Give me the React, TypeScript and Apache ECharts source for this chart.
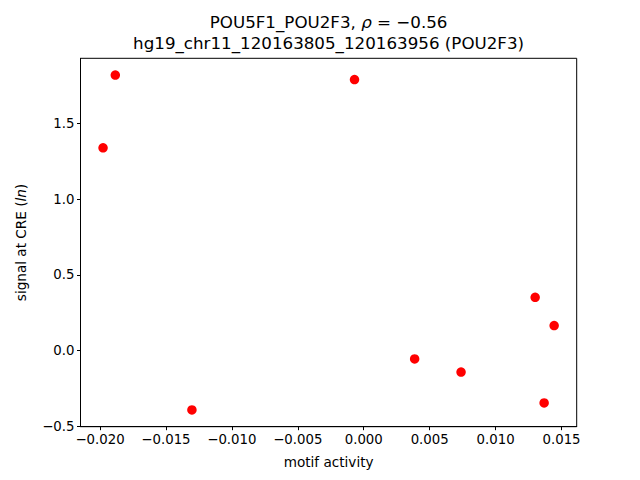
import React, { useEffect, useRef } from "react";
import * as echarts from "echarts";

const xValues = [-0.01884, -0.01977, -0.0007, -0.01303, 0.00386, 0.00738, 0.0130, 0.01444, 0.01368];
const yValues = [1.818, 1.338, 1.788, -0.392, -0.055, -0.142, 0.351, 0.165, -0.346];
const xRange = [-0.02148, 0.01615];
const yRange = [-0.5025, 1.9285];
const titleLine1 = "POU5F1_POU2F3, ";
const titleRho = "ρ";
const titleRhoValue = " = −0.56";
const titleLine2 = "hg19_chr11_120163805_120163956 (POU2F3)";
const xName = "motif activity";

const FONT = "DejaVu Sans";

function fmt(v: number, d: number) {
  const s = Math.abs(v).toFixed(d);
  return (v < -1e-12 ? "−" : "") + s;
}

export default function App() {
  const ref = useRef<HTMLDivElement>(null);
  useEffect(() => {
    if (!ref.current) return;
    const chart = echarts.init(ref.current, null, { renderer: "svg" });
    const data = xValues.map((x, i) => [x, yValues[i]]);
    chart.setOption({
      animation: false,
      backgroundColor: "#ffffff",
      textStyle: { fontFamily: FONT },
      grid: {
        left: 80.5,
        right: 63.3,
        top: 58.3,
        bottom: 53.3,
        show: true,
        borderColor: "#000",
        borderWidth: 1,
        backgroundColor: "transparent",
      },
      xAxis: {
        type: "value",
        min: xRange[0],
        max: xRange[1],
        splitNumber: 7,
        splitLine: { show: false },
        axisLine: { show: true, onZero: false, lineStyle: { color: "#000", width: 1 } },
        axisTick: { show: true, length: 3.5, lineStyle: { color: "#000" } },
        axisLabel: {
          color: "#000",
          fontSize: 13.3,
          fontFamily: FONT,
          margin: 6,
          showMinLabel: false,
          showMaxLabel: false,
          formatter: (v: number) => fmt(v, 3),
        },
      },
      yAxis: {
        type: "value",
        min: yRange[0],
        max: yRange[1],
        splitNumber: 5,
        splitLine: { show: false },
        axisLine: { show: true, onZero: false, lineStyle: { color: "#000", width: 1 } },
        axisTick: { show: true, length: 3.5, lineStyle: { color: "#000" } },
        axisLabel: {
          color: "#000",
          fontSize: 13.3,
          fontFamily: FONT,
          margin: 6,
          showMinLabel: false,
          showMaxLabel: false,
          formatter: (v: number) => fmt(v, 1),
        },
      },
      series: [
        {
          type: "scatter",
          data,
          symbol: "circle",
          symbolSize: 9.5,
          itemStyle: { color: "#ff0000", opacity: 1 },
        },
      ],
      graphic: [
        {
          type: "text",
          x: 328.6,
          y: 22,
          style: {
            text: "{a|" + titleLine1 + "}{i|" + titleRho + "}{a|" + titleRhoValue + "}",
            textAlign: "center",
            textVerticalAlign: "middle",
            rich: {
              a: { fontSize: 16.7, fontFamily: FONT, fill: "#000" },
              i: { fontSize: 16.7, fontFamily: FONT, fontStyle: "italic", fill: "#000" },
            },
          },
        },
        {
          type: "text",
          x: 328.6,
          y: 43,
          style: {
            text: titleLine2,
            fontSize: 16.7,
            fontFamily: FONT,
            fill: "#000",
            textAlign: "center",
            textVerticalAlign: "middle",
          },
        },
        {
          type: "text",
          x: 328.6,
          y: 462,
          style: {
            text: xName,
            fontSize: 13.6,
            fontFamily: FONT,
            fill: "#000",
            textAlign: "center",
            textVerticalAlign: "middle",
          },
        },
        {
          type: "text",
          x: 21,
          y: 242.5,
          rotation: Math.PI / 2,
          style: {
            text: "{a|signal at CRE (}{i|ln}{a|)}",
            textAlign: "center",
            textVerticalAlign: "middle",
            rich: {
              a: { fontSize: 13.6, fontFamily: FONT, fill: "#000" },
              i: { fontSize: 13.6, fontFamily: FONT, fontStyle: "italic", fill: "#000" },
            },
          },
        },
      ],
    });
    return () => chart.dispose();
  }, []);
  return <div ref={ref} style={{ width: 640, height: 480, position: "absolute", left: 0, top: 0 }} />;
}
